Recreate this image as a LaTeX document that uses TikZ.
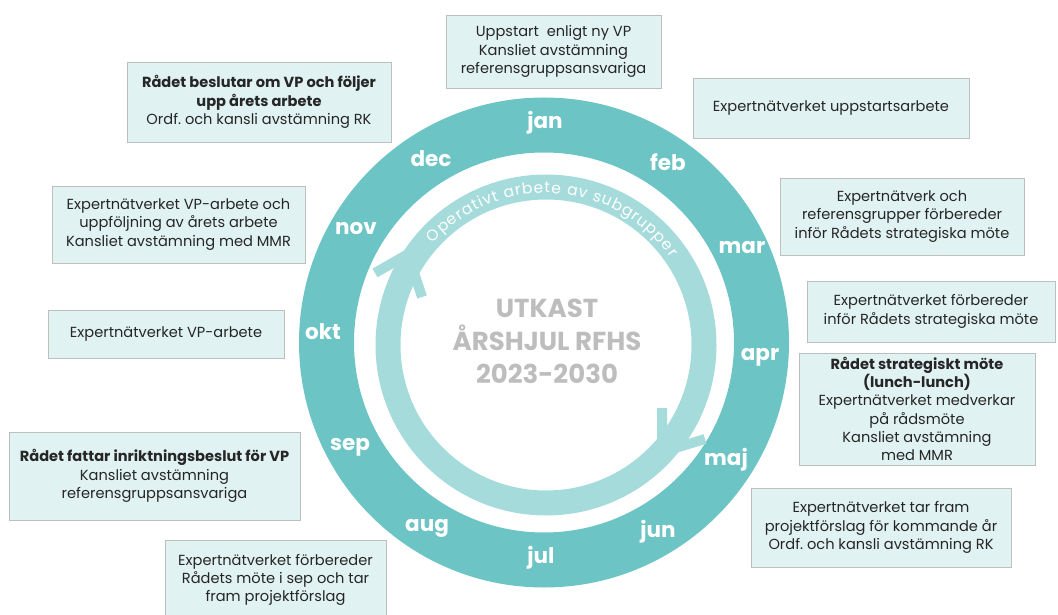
\documentclass[tikz,border=0pt]{standalone}
\usepackage{fontspec}
\setmainfont{Poppins}
\usetikzlibrary{decorations.text}
\definecolor{ringc}{HTML}{6CC4C4}
\definecolor{lringc}{HTML}{A6DBDB}
\definecolor{boxfill}{HTML}{E1F2F2}
\definecolor{boxline}{HTML}{BEBEBE}
\definecolor{txtc}{HTML}{262626}
\definecolor{ctrc}{HTML}{BDBDBD}
\begin{document}
\begin{tikzpicture}[x=1pt,y=1pt,
  infobox/.style={draw=boxline, line width=0.8pt, fill=boxfill, align=center,
    inner sep=0pt, text=txtc, font=\fontsize{14.6}{18.3}\selectfont},
  month/.style={text=white, font=\fontsize{21.5}{24}\selectfont\bfseries, inner sep=0pt},
  chev/.style={draw=lringc, line width=10pt, line join=miter}
]
\useasboundingbox (0,0) rectangle (1058,614);
% wheel
\coordinate (oc) at (544,271.5);
\coordinate (lc) at (546,269);
\draw[ringc, line width=55pt] (oc) circle[radius=217.5];
\draw[lringc, line width=25pt] (lc) circle[radius=158];
\coordinate (t1) at (408,360); \coordinate (a1) at (375,341); \coordinate (b1) at (422,317);
\draw[chev] (a1) -- (t1) -- (b1);
\coordinate (t2) at (662,162); \coordinate (a2) at (662,206); \coordinate (b2) at (705,175);
\draw[chev] (a2) -- (t2) -- (b2);
\path[decorate, decoration={text along path, text align={fit to path},
  text={|\fontsize{15.5}{18}\selectfont\color{white}|Operativt arbete av subgrupper}}]
  ([shift={(138:152)}]lc) arc[start angle=138, end angle=35, radius=152];
% months
\node[month] (jan) at (545,491) {jan};
\node[month] (feb) at (668,452) {feb};
\node[month] (mar) at (742,366) {mar};
\node[month] (apr) at (760,257) {apr};
\node[month] (maj) at (726,154) {maj};
\node[month] (jun) at (658,82) {jun};
\node[month] (jul) at (541,56) {jul};
\node[month] (aug) at (427,86) {aug};
\node[month] (sep) at (350,167) {sep};
\node[month] (okt) at (323,282) {okt};
\node[month] (nov) at (356,385) {nov};
\node[month] (dec) at (431,455) {dec};
% centre title
\node[text=ctrc, font=\fontsize{26}{33}\selectfont\bfseries, align=center] (title) at (547,273)
  {UTKAST\\ÅRSHJUL RFHS\\2023-2030};
% boxes
\node[infobox, minimum width=215pt, minimum height=73pt] (bA) at (553.5,562.5)
  {Uppstart\ \ enligt ny VP\\Kansliet avstämning\\referensgruppsansvariga};
\node[infobox, minimum width=264pt, minimum height=80pt] (bB) at (259,512)
  {\textbf{Rådet beslutar om VP och följer}\\\textbf{upp årets arbete}\\Ordf.\ och kansli avstämning RK};
\node[infobox, minimum width=253pt, minimum height=77pt] (bC) at (178.5,389.5)
  {Expertnätverket VP-arbete och\\uppföljning av årets arbete\\Kansliet avstämning med MMR};
\node[infobox, minimum width=276pt, minimum height=60pt] (bD) at (831,506)
  {Expertnätverket uppstartsarbete};
\node[infobox, minimum width=244pt, minimum height=77pt] (bE) at (902,397.5)
  {Expertnätverk och\\referensgrupper förbereder\\inför Rådets strategiska möte};
\node[infobox, minimum width=248pt, minimum height=61pt] (bF) at (931,302.5)
  {Expertnätverket förbereder\\inför Rådets strategiska möte};
\node[infobox, minimum width=236pt, minimum height=112pt] (bG) at (917,205)
  {\textbf{Rådet strategiskt möte}\\\textbf{(lunch-lunch)}\\Expertnätverket medverkar\\på rådsmöte\\Kansliet avstämning\\med MMR};
\node[infobox, minimum width=260pt, minimum height=79pt] (bH) at (881,86.5)
  {Expertnätverket tar fram\\projektförslag för kommande år\\Ordf.\ och kansli avstämning RK};
\node[infobox, minimum width=236pt, minimum height=48pt] (bI) at (166,280)
  {Expertnätverket VP-arbete};
\node[infobox, minimum width=291pt, minimum height=88pt] (bJ) at (154.5,138)
  {\textbf{Rådet fattar inriktningsbeslut för VP}\\Kansliet avstämning\\referensgruppsansvariga};
\node[infobox, minimum width=221pt, minimum height=80pt] (bK) at (275.5,34)
  {Expertnätverket förbereder\\Rådets möte i sep och tar\\fram projektförslag};
\end{tikzpicture}
\end{document}
